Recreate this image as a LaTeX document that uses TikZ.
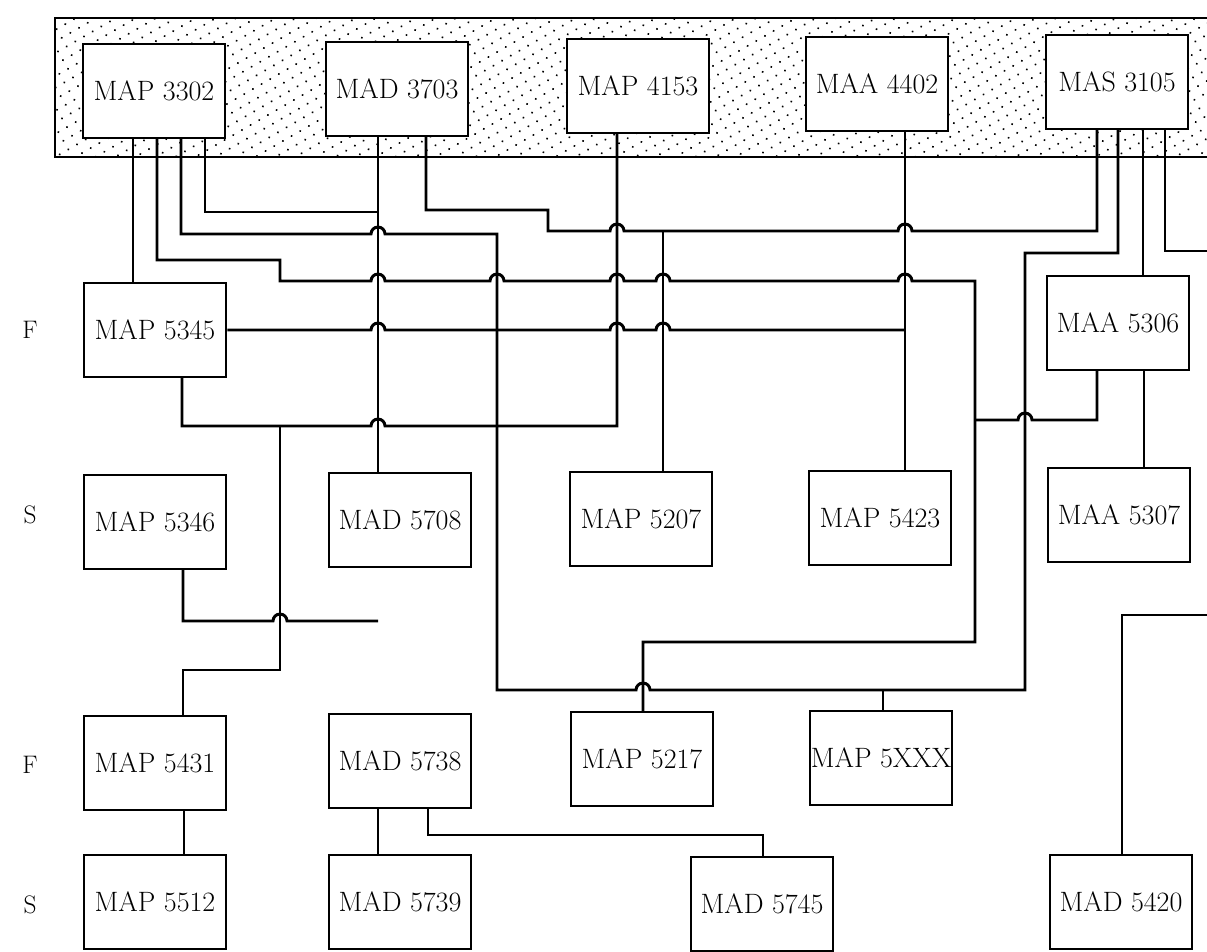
\documentclass[tikz,border=0pt]{standalone}
\usetikzlibrary{patterns.meta}

\tikzset{every picture/.style={line width=0.75pt}}
\tikzset{
  box/.style={draw, line width=1.5, fill=white, minimum width=107pt, minimum height=70pt, inner sep=0pt, font=\fontsize{21}{24}\selectfont},
  wire/.style={line width=2.2, line join=miter},
  lbl/.style={font=\fontsize{19}{22}\selectfont}
}

\begin{document}
\begin{tikzpicture}[x=0.75pt,y=0.75pt,yscale=-1,xscale=1]
\useasboundingbox (0,0) rectangle (1207,951);
\clip (0,0) rectangle (1207,951);

%Shape: Dotted band
\draw [line width=1.8, pattern={Dots[distance=7.5pt,angle=30,radius=0.85pt]}] (55,18) rectangle (1240,157);

% Top row
\node[box] (m3302) at (154,91) {MAP 3302};
\node[box] (m3703) at (397,89) {MAD 3703};
\node[box] (m4153) at (638,86) {MAP 4153};
\node[box] (m4402) at (877,84) {MAA 4402};
\node[box] (m3105) at (1117,82) {MAS 3105};

% Row labels
\node[lbl] (rowF1) at (30,330) {F};
\node[lbl] (rowS1) at (30,515) {S};
\node[lbl] (rowF2) at (30,765) {F};
\node[lbl] (rowS2) at (30,905) {S};

% Other units
\node[box] (m5345) at (155,330) {MAP 5345};
\node[box] (m5306) at (1118,323) {MAA 5306};
\node[box] (m5346) at (155,522) {MAP 5346};
\node[box] (m5708) at (400,520) {MAD 5708};
\node[box] (m5207) at (641,519) {MAP 5207};
\node[box] (m5423) at (880,518) {MAP 5423};
\node[box] (m5307) at (1119,515) {MAA 5307};
\node[box] (m5431) at (155,763) {MAP 5431};
\node[box] (m5738) at (400,761) {MAD 5738};
\node[box] (m5217) at (642,759) {MAP 5217};
\node[box] (m5xxx) at (881,758) {MAP 5XXX};
\node[box] (m5512) at (155,902) {MAP 5512};
\node[box] (m5739) at (400,902) {MAD 5739};
\node[box] (m5745) at (762,904) {MAD 5745};
\node[box] (m5420) at (1121,902) {MAD 5420};

% Free ends at the right border
\coordinate (edgeA) at (1215,251);
\coordinate (edgeB) at (1215,615);

% Connectors from MAP 3302
\draw [wire] (133,0 |- m3302.south) -- (133,0 |- m5345.north);
\draw [wire] (157,0 |- m3302.south) -- (157,260) -- (280,260) -- (280,281) -- (371,281) arc (180:360:7) -- (490,281) arc (180:360:7) -- (610,281) arc (180:360:7) -- (656,281) arc (180:360:7) -- (898,281) arc (180:360:7) -- (975,281) -- (975,642) -- (643,642) -- (643,0 |- m5217.north);
\draw [wire] (181,0 |- m3302.south) -- (181,234) -- (371,234) arc (180:360:7) -- (497,234) -- (497,690) -- (636,690) arc (180:360:7) -- (1025,690) -- (1025,253) -- (1118,253) -- (1118,0 |- m3105.south);
\draw [wire] (205,0 |- m3302.south) -- (205,212) -- (378,212);

% MAD 3703
\draw [wire] (378,0 |- m3703.south) -- (378,0 |- m5708.north);
\draw [wire] (426,0 |- m3703.south) -- (426,210) -- (548,210) -- (548,231) -- (610,231) arc (180:360:7) -- (898,231) arc (180:360:7) -- (1097,231) -- (1097,0 |- m3105.south);

% MAP 4153 and MAA 4402
\draw [wire] (182,0 |- m5345.south) -- (182,426) -- (371,426) arc (180:360:7) -- (617,426) -- (617,0 |- m4153.south);
\draw [wire] (905,0 |- m4402.south) -- (905,0 |- m5423.north);
\draw [wire] (m5345.east) -- (371,330) arc (180:360:7) -- (610,330) arc (180:360:7) -- (656,330) arc (180:360:7) -- (905,330);
\draw [wire] (663,0 |- m5207.north) -- (663,231);

% MAS 3105 and MAA 5306
\draw [wire] (1143,0 |- m3105.south) -- (1143,0 |- m5306.north);
\draw [wire] (1144,0 |- m5306.south) -- (1144,0 |- m5307.north);
\draw [wire] (1097,0 |- m5306.south) -- (1097,420) -- (1032,420) arc (0:-180:7) -- (975,420);
\draw [wire] (1165,0 |- m3105.south) -- (1165,251) -- (edgeA);

% Lower rows
\draw [wire] (883,0 |- m5xxx.north) -- (883,690);
\draw [wire] (183,0 |- m5346.south) -- (183,621) -- (273,621) arc (180:360:7) -- (378,621);
\draw [wire] (183,0 |- m5431.north) -- (183,670) -- (280,670) -- (280,426);
\draw [wire] (184,0 |- m5431.south) -- (184,0 |- m5512.north);
\draw [wire] (378,0 |- m5738.south) -- (378,0 |- m5739.north);
\draw [wire] (428,0 |- m5738.south) -- (428,835) -- (763,835) -- (763,0 |- m5745.north);
\draw [wire] (1122,0 |- m5420.north) -- (1122,615) -- (edgeB);

\end{tikzpicture}
\end{document}
